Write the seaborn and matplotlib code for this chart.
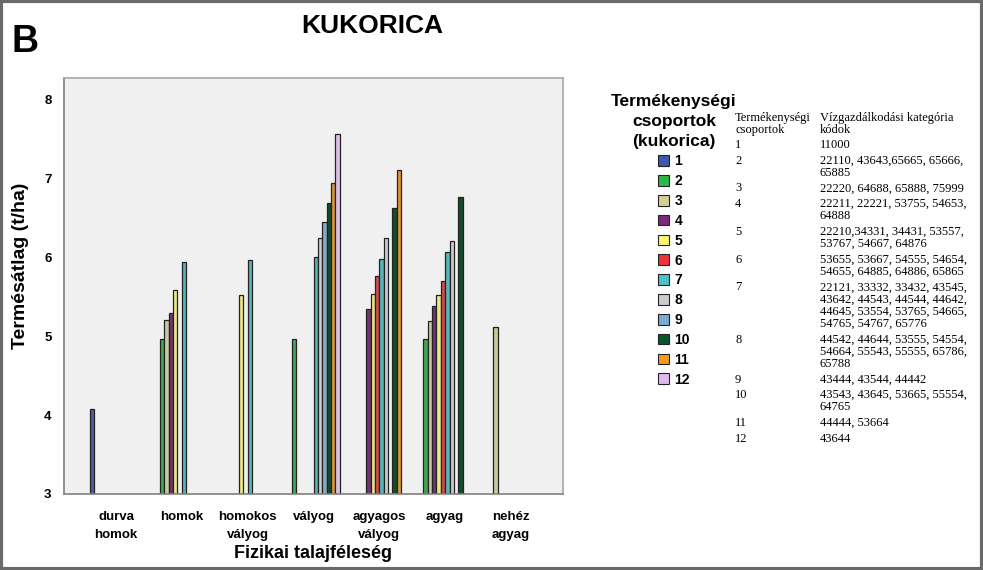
import textwrap

import matplotlib.pyplot as plt
import matplotlib.patches as mpatches
import pandas as pd
import seaborn as sns

# Fizikai talajféleség kategóriák (x tengely)
talaj = ["durva\nhomok", "homok", "homokos\nvályog", "vályog",
         "agyagos\nvályog", "agyag", "nehéz\nagyag"]

# Termékenységi csoportok és SPSS-színek
csoportok = ["1", "2", "3", "4", "5", "6", "7", "8", "9", "10", "11", "12"]
szinek = ["#3E58AC", "#2EB848", "#D3CE97", "#7C287D", "#FBF873", "#EF3338",
          "#48C2C5", "#CCCCCC", "#7AAAD5", "#0A562C", "#F8981D", "#DDBAF1"]

# Oszlopok (hosszú formátum): talajféleség, csoport, termésátlag (t/ha)
bar_talaj = (["durva\nhomok"]
             + ["homok"] * 5
             + ["homokos\nvályog"] * 2
             + ["vályog"] * 7
             + ["agyagos\nvályog"] * 7
             + ["agyag"] * 8
             + ["nehéz\nagyag"])
bar_csoport = (["1"]
               + ["2", "3", "4", "5", "7"]
               + ["5", "7"]
               + ["2", "7", "8", "9", "10", "11", "12"]
               + ["4", "5", "6", "7", "8", "10", "11"]
               + ["2", "3", "4", "5", "6", "7", "8", "10"]
               + ["3"])
bar_atlag = ([4.08]
             + [4.96, 5.21, 5.30, 5.59, 5.94]
             + [5.52, 5.97]
             + [4.97, 6.00, 6.25, 6.45, 6.69, 6.94, 7.56]
             + [5.34, 5.54, 5.76, 5.98, 6.25, 6.63, 7.11]
             + [4.96, 5.19, 5.38, 5.52, 5.70, 6.07, 6.21, 6.76]
             + [5.12])

# Vízgazdálkodási kategória kódok csoportonként (jobb oldali táblázat)
kodok = [
    "11000",
    "22110, 43643,65665, 65666, 65885",
    "22220, 64688, 65888, 75999",
    "22211, 22221, 53755, 54653, 64888",
    "22210,34331, 34431, 53557, 53767, 54667, 64876",
    "53655, 53667, 54555, 54654, 54655, 64885, 64886, 65865",
    "22121, 33332, 33432, 43545, 43642, 44543, 44544, 44642, "
    "44645, 53554, 53765, 54665, 54765, 54767, 65776",
    "44542, 44644, 53555, 54554, 54664, 55543, 55555, 65786, 65788",
    "43444, 43544, 44442",
    "43543, 43645, 53665, 55554, 64765",
    "44444, 53664",
    "43644",
]

df = pd.DataFrame({"talaj": bar_talaj, "csoport": bar_csoport,
                   "atlag": bar_atlag})

sns.set_style("white")
plt.rcParams["text.color"] = "black"
plt.rcParams["xtick.color"] = "black"
plt.rcParams["ytick.color"] = "black"
plt.rcParams["axes.labelcolor"] = "black"
arial = ["Liberation Sans", "DejaVu Sans"]
serif = ["Liberation Serif", "DejaVu Serif"]

W, H = 983, 570
fig = plt.figure(figsize=(W / 100, H / 100), dpi=100)
ax = fig.add_axes([64 / W, (H - 494) / H, (563 - 64) / W, (494 - 77.5) / H])
ax.set_facecolor("#F0F0F0")

sns.barplot(data=df, x="talaj", y="atlag", hue="csoport",
            order=talaj, hue_order=csoportok, palette=szinek,
            dodge=True, width=0.8, edgecolor="#222222", linewidth=0.9,
            errorbar=None, legend=False, ax=ax)

ax.set_ylim(3, 8.28)
ax.set_xlim(-0.79, 6.79)
ax.set_yticks([3, 4, 5, 6, 7, 8])
ax.set_xlabel("Fizikai talajféleség", fontsize=13, fontweight="bold",
              family=arial)
ax.set_ylabel("Termésátlag (t/ha)", fontsize=14, fontweight="bold",
              family=arial)
ax.xaxis.set_label_coords(0.5, -0.122)
ax.yaxis.set_label_coords(-0.07, 0.547)
for lab in ax.get_xticklabels() + ax.get_yticklabels():
    lab.set_family(arial)
    lab.set_fontweight("bold")
    lab.set_fontsize(9.5)
for lab in ax.get_xticklabels():
    lab.set_linespacing(1.75)
ax.tick_params(axis="both", direction="out", length=6, width=1,
               color="#555555", pad=3)
ax.tick_params(axis="x", length=7, pad=5)
for side in ["left", "bottom"]:
    ax.spines[side].set_color("#808080")
    ax.spines[side].set_linewidth(1.2)
for side in ["top", "right"]:
    ax.spines[side].set_color("#A8A8A8")
    ax.spines[side].set_linewidth(1.2)

# Cím és panel betű
fig.text(372 / W, 1 - 26 / H, "KUKORICA", ha="center", va="center",
         fontsize=19, fontweight="bold", family=arial)
fig.text(12 / W, 1 - 42 / H, "B", ha="left", va="center",
         fontsize=27, fontweight="bold", family=arial)

# Jelmagyarázat
handles = [mpatches.Patch(facecolor=c, edgecolor="#222222", linewidth=0.8)
           for c in szinek]
leg = ax.legend(handles, csoportok,
                title="Termékenységi\ncsoportok\n(kukorica)",
                loc="upper center", bbox_to_anchor=(674 / W, 1 - 87 / H),
                bbox_transform=fig.transFigure, frameon=False,
                handlelength=0.8, handleheight=0.8, handletextpad=0.4,
                labelspacing=0.42, borderpad=0,
                prop={"family": arial, "weight": "bold", "size": 10})
leg.get_title().set_fontproperties({"family": arial, "weight": "bold",
                                    "size": 12.5})
leg.get_title().set_multialignment("center")
leg.get_title().set_linespacing(1.4)

# Táblázat: csoport -> vízgazdálkodási kódok
tfont = {"family": serif, "size": 9}
fig.text(735 / W, 1 - 118 / H, "Termékenységi", va="center", **tfont)
fig.text(735 / W, 1 - 130 / H, "csoportok", va="center", **tfont)
fig.text(820 / W, 1 - 118 / H, "Vízgazdálkodási kategória", va="center",
         **tfont)
fig.text(820 / W, 1 - 130 / H, "kódok", va="center", **tfont)
y = 145
for csop, kod in zip(csoportok, kodok):
    sorok = textwrap.wrap(kod, width=30)
    fig.text(735 / W, 1 - y / H, csop, va="center", **tfont)
    for j, sor in enumerate(sorok):
        fig.text(820 / W, 1 - (y + 12.2 * j) / H, sor, va="center", **tfont)
    y += 12.2 * len(sorok) + 3.4

# Keret a teljes ábra körül
fig.patches.append(mpatches.Rectangle((0.0015, 0.0025), 0.997, 0.995,
                                      transform=fig.transFigure, fill=False,
                                      edgecolor="#6A6A6A", linewidth=3))

fig.savefig("out.png", dpi=100)
